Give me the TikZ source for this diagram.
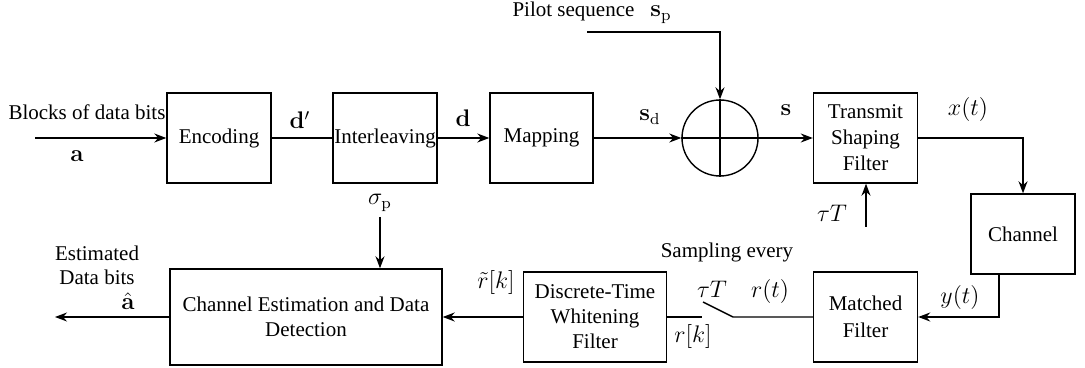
\documentclass[tikz,border=0pt]{standalone}
\usepackage{amsmath,amssymb}
\usepackage[no-math]{fontspec}
\setmainfont{Liberation Serif}
\usetikzlibrary{arrows.meta}
\newcommand{\bigmath}[1]{{\fontsize{12}{14}\selectfont$#1$}}

\begin{document}
\begin{tikzpicture}[x=0.5pt,y=-0.5pt,
  font=\fontsize{10.5}{12.5}\selectfont,
  block/.style={draw,line width=0.7pt,align=center,inner sep=0pt,
    minimum width=52pt,minimum height=45pt},
  link/.style={line width=0.7pt},
  flow/.style={link,-{Stealth[length=6pt,width=4.5pt]}},
  every label node/.style={inner sep=1pt}]
  \useasboundingbox (0,0) rectangle (1085,368);

  % blocks
  \node[block] (enc) at (219,138) {Encoding};
  \node[block] (intl) at (385,138) {Interleaving};
  \node[block,minimum width=51.5pt] (map) at (541.5,138) {Mapping};
  \node[draw,circle,line width=0.7pt,minimum size=38pt,inner sep=0pt] (sum) at (720,138) {};
  \draw[link] (sum.north) -- (sum.south) (sum.west) -- (sum.east);
  \node[block,font=\fontsize{10.5}{13}\selectfont] (tx) at (865.5,138) {Transmit\\Shaping\\Filter};
  \node[block,minimum height=40pt] (chan) at (1023,234) {Channel};
  \node[block,font=\fontsize{10.5}{13.5}\selectfont] (mf) at (865.5,317) {Matched\\Filter};
  \node[block,minimum width=71.5pt] (wf) at (595,317) {Discrete-Time\\Whitening\\Filter};
  \node[block,minimum width=136pt,minimum height=48pt] (ce) at (306,317) {Channel Estimation and Data\\Detection};

  % free ends and the sampling switch
  \coordinate (in) at (35,138);
  \coordinate (pilot) at (587,32);
  \coordinate (tau) at (866,227);
  \coordinate (sig) at (380,217);
  \coordinate (out) at (55,317);
  \coordinate (swl) at (702,317);
  \coordinate (swa) at (703,302);
  \coordinate (swr) at (733,317);

  % connectors
  \draw[flow] (in) -- (enc);
  \draw[link] (enc) -- (intl);
  \draw[flow] (intl) -- (map);
  \draw[flow] (map) -- (sum);
  \draw[flow] (pilot) -| (sum.north);
  \draw[flow] (sum) -- (tx);
  \draw[flow] (tx.east) -| (chan.north);
  \draw[flow] (tau) -- (tau |- tx.south);
  \draw[flow] ([xshift=-12pt]chan.south) |- (mf.east);
  \draw[link] (mf) -- (swr) -- (swa);
  \draw[link] (wf) -- (swl);
  \draw[flow] (wf) -- (ce);
  \draw[flow] (ce) -- (out);
  \draw[flow] (sig) -- (sig |- ce.north);

  % labels
  \node[every label node] (blk) at (87,112) {Blocks of data bits};
  \node[every label node] (abit) at (77,156) {\bigmath{\mathbf{a}}};
  \node[every label node] (dpr) at (300,120) {\bigmath{\mathbf{d}'}};
  \node[every label node] (dlbl) at (463,118) {\bigmath{\mathbf{d}}};
  \node[every label node] (sdlbl) at (650,117) {\bigmath{\mathbf{s}_\mathrm{d}}};
  \node[every label node] (pil) at (592,13) {Pilot sequence\hspace{8pt}\bigmath{\mathbf{s}_\mathrm{p}}};
  \node[every label node] (slbl) at (786,110) {\bigmath{\mathbf{s}}};
  \node[every label node] (xt) at (968,110) {\bigmath{x(t)}};
  \node[every label node] (taut) at (832,213) {\bigmath{\tau T}};
  \node[every label node] (sigp) at (380,203) {\bigmath{\sigma_\mathrm{p}}};
  \node[every label node,align=center,font=\fontsize{10.5}{12}\selectfont] (est) at (97,265) {Estimated\\Data bits};
  \node[every label node] (ahat) at (128,301) {\bigmath{\hat{\mathbf{a}}}};
  \node[every label node] (rtil) at (496,283) {\bigmath{\tilde{r}[k]}};
  \node[every label node] (samp) at (727,252) {Sampling every};
  \node[every label node] (swt) at (712,289) {\bigmath{\tau T}};
  \node[every label node] (rt) at (770,292) {\bigmath{r(t)}};
  \node[every label node] (rk) at (693,337) {\bigmath{r[k]}};
  \node[every label node] (yt) at (960,298) {\bigmath{y(t)}};
\end{tikzpicture}
\end{document}
